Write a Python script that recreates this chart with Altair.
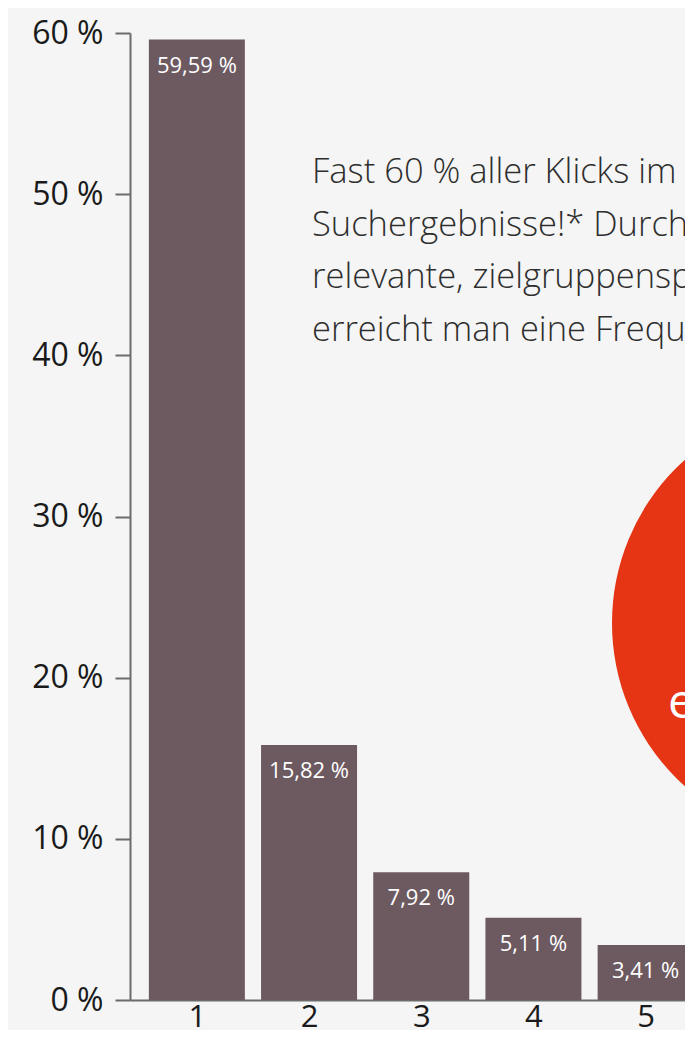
import altair as alt
import pandas as pd

# ---- data ----
positions = [1, 2, 3, 4, 5]
shares = [59.59, 15.82, 7.92, 5.11, 3.41]
y_ticks = [0, 10, 20, 30, 40, 50, 60]
x_ticks = [1, 2, 3, 4, 5]
intro_lines = [
    "Fast 60 % aller Klicks im Netz gehen auf die ersten drei",
    "Suchergebnisse!* Durch die Optimierung auf",
    "relevante, zielgruppenspezifische Inhalte",
    "erreicht man eine Frequenzsteigerung.",
]
circle_line1 = "o"
circle_line2 = "e"

FONT = "Open Sans"
BAR = "#6d5a61"
AXIS = "#6b6b6b"
RED = "#e53514"

df = pd.DataFrame({"pos": positions, "share": shares})

x_scale = alt.Scale(domain=[0.4486, 5.3063], nice=False, zero=False)
y_scale = alt.Scale(domain=[0, 60], nice=False)

base = alt.Chart(df)

bars = base.mark_bar(size=96, color=BAR, clip=True).encode(
    x=alt.X("pos:Q", scale=x_scale,
            axis=alt.Axis(values=x_ticks, format="d", title=None, ticks=False,
                          labelFontSize=31, labelPadding=2, labelColor="#1a1a1a",
                          labelFont=FONT, domainColor=AXIS, domainWidth=2,
                          grid=False, labelFlush=False)),
    y=alt.Y("share:Q", scale=y_scale,
            axis=alt.Axis(values=y_ticks, title=None, grid=False,
                          labelExpr="datum.value + ' %'",
                          labelFontSize=32, labelPadding=12, labelColor="#1a1a1a",
                          labelFont=FONT, tickSize=15, tickWidth=2, tickColor=AXIS,
                          domainColor=AXIS, domainWidth=2)),
)

labels = base.transform_calculate(
    lab="replace(format(datum.share, '.2f'), '.', ',') + ' %'"
).mark_text(color="white", fontSize=22, font=FONT, baseline="middle",
            align="center", dy=26, clip=True).encode(
    x=alt.X("pos:Q", scale=x_scale),
    y=alt.Y("share:Q", scale=y_scale),
    text="lab:N",
)

one = pd.DataFrame({"a": [0]})

intro = alt.Chart(one).mark_text(
    text=intro_lines, align="left", baseline="alphabetic", fontSize=34.5,
    font=FONT, fontWeight=300, color="#2e2e2e", lineHeight=52.5
).encode(x=alt.value(182), y=alt.value(150))

circle = alt.Chart(one).mark_circle(color=RED, opacity=1, size=191844).encode(
    x=alt.value(701), y=alt.value(590)
)

ctext1 = alt.Chart(one).mark_text(
    text=circle_line1, align="left", baseline="alphabetic", fontSize=48,
    font=FONT, color="white"
).encode(x=alt.value(559), y=alt.value(625))

ctext2 = alt.Chart(one).mark_text(
    text=circle_line2, align="left", baseline="alphabetic", fontSize=48,
    font=FONT, color="white"
).encode(x=alt.value(538), y=alt.value(685))

chart = alt.layer(bars, labels, intro, circle, ctext1, ctext2).properties(
    width=555, height=967,
    autosize=alt.AutoSizeParams(type="none"),
    padding={"left": 122, "top": 25, "right": 0, "bottom": 30},
    background="#f4f5f4",
).configure_view(stroke=None)

chart.save("out.html", embed_options={"renderer": "svg", "actions": False})
